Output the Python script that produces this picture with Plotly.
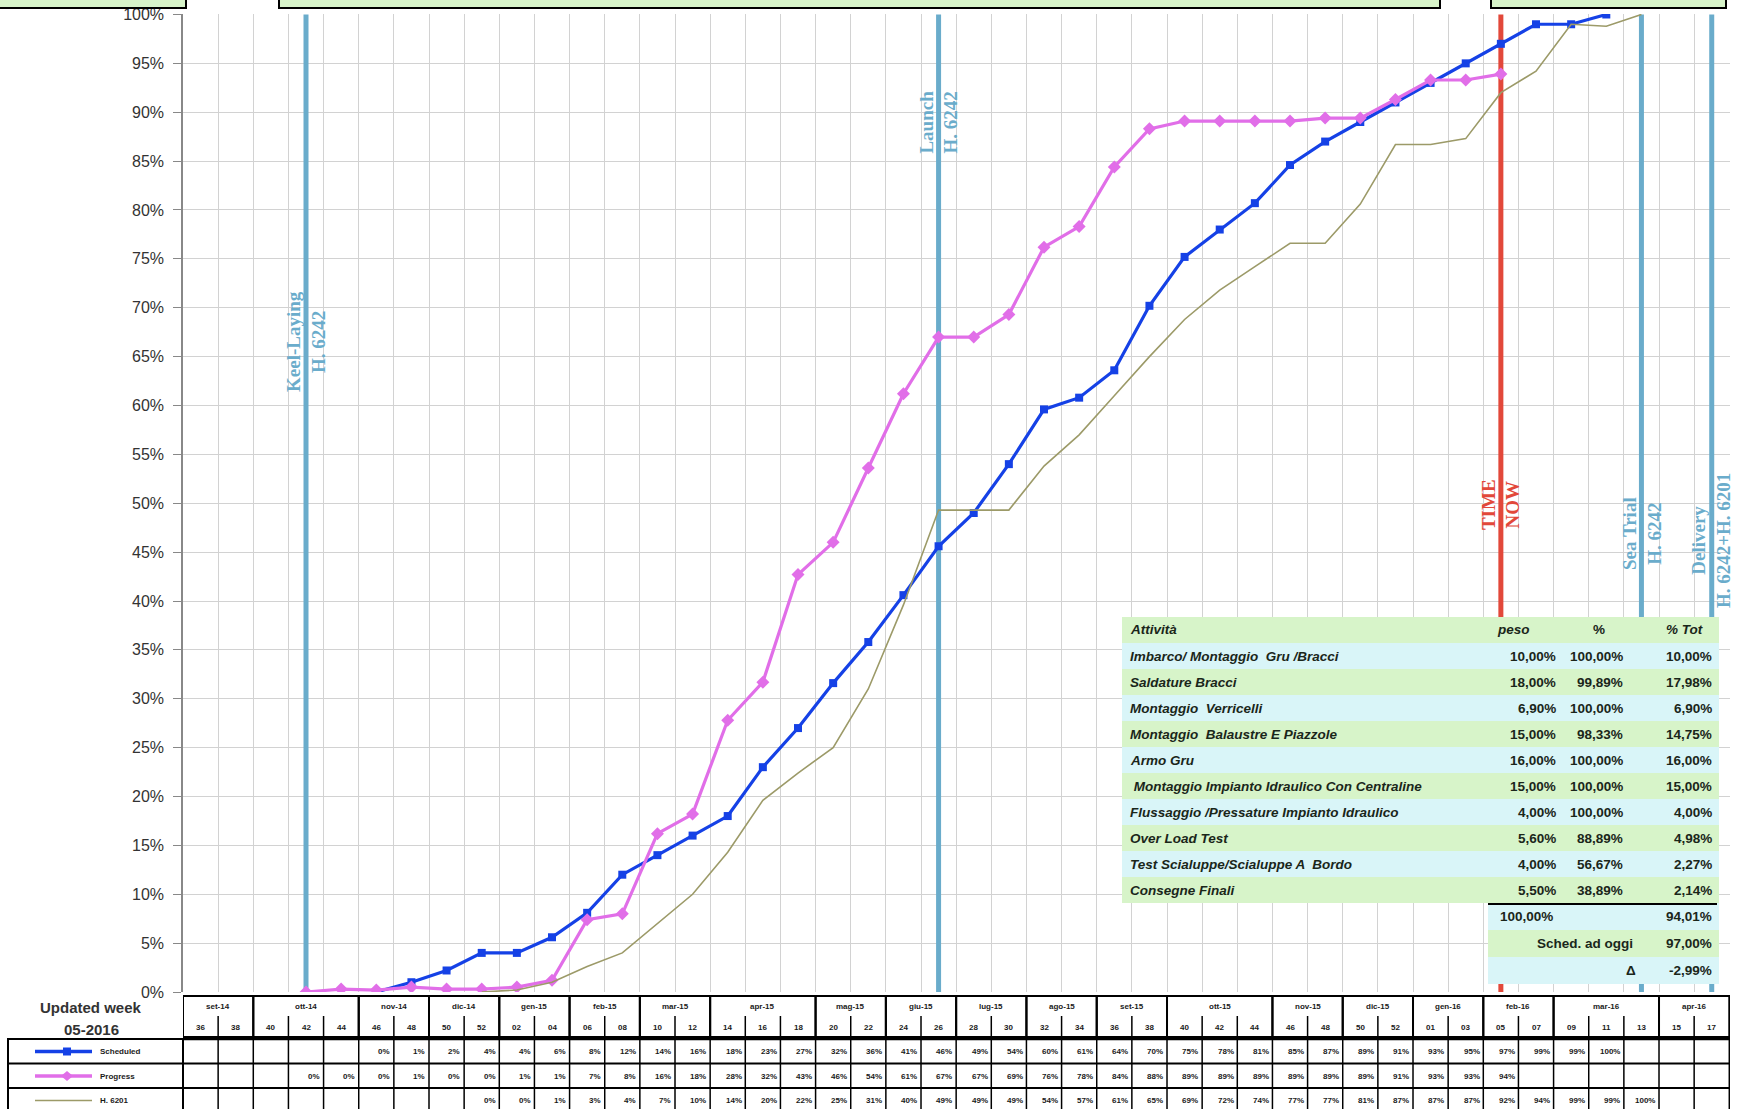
import plotly.graph_objects as go

W, H = 1737, 1109

# week columns of the S-curve (one point per column)
weeks = ["36", "38", "40", "42", "44", "46", "48", "50", "52",
         "02", "04", "06", "08", "10", "12", "14", "16", "18", "20", "22", "24", "26",
         "28", "30", "32", "34", "36", "38", "40", "42", "44", "46", "48", "50", "52",
         "01", "03", "05", "07", "09", "11", "13", "15", "17"]
month_labels = ["set-14", "ott-14", "nov-14", "dic-14", "gen-15", "feb-15", "mar-15",
                "apr-15", "mag-15", "giu-15", "lug-15", "ago-15", "set-15", "ott-15",
                "nov-15", "dic-15", "gen-16", "feb-16", "mar-16", "apr-16"]
month_spans = [2, 3, 2, 2, 2, 2, 2, 3, 2, 2, 2, 2, 2, 3, 2, 2, 2, 2, 3, 2]

# percentages (None = empty cell)
scheduled = [None] * 5 + [
    0.0, 1.0, 2.2, 4.0, 4.0, 5.6, 8.1, 12.0, 14.0, 16.0,
    18.0, 23.0, 27.0, 31.6, 35.8, 40.6, 45.6, 49.0, 54.0, 59.6,
    60.8, 63.6, 70.2, 75.2, 78.0, 80.7, 84.6, 87.0, 89.0, 91.0,
    93.0, 95.0, 97.0, 99.0, 99.0, 100.0] + [None] * 3
progress = [None] * 3 + [
    0.0, 0.3, 0.2, 0.5, 0.3, 0.3, 0.5, 1.2, 7.4, 8.0,
    16.2, 18.2, 27.8, 31.7, 42.7, 46.0, 53.6, 61.2, 67.0, 67.0,
    69.3, 76.2, 78.3, 84.4, 88.3, 89.1, 89.1, 89.1, 89.1, 89.4,
    89.4, 91.3, 93.3, 93.3, 93.9] + [None] * 6
h6201 = [None] * 8 + [
    0.0, 0.2, 1.0, 2.6, 4.0, 7.0, 10.0, 14.3, 19.6, 22.4,
    25.0, 31.0, 39.6, 49.3, 49.3, 49.3, 53.8, 57.0, 61.0, 65.0,
    68.8, 71.8, 74.2, 76.6, 76.6, 80.6, 86.7, 86.7, 87.3, 92.0,
    94.2, 99.0, 98.8, 100.0] + [None] * 2

# milestones (column index)
ms_pos = [3, 21, 37, 41, 43]
ms_text = ["Keel-Laying<br>H. 6242", "Launch<br>H. 6242", "TIME<br>NOW",
           "Sea Trial<br>H. 6242", "Delivery<br>H. 6242+H. 6201"]
ms_color = ["#6aaccb", "#6aaccb", "#e2483a", "#6aaccb", "#6aaccb"]
ms_label_y = [0.665, 0.89, 0.499, 0.469, 0.462]

# activity table
act_names = ["Imbarco/ Montaggio  Gru /Bracci", "Saldature Bracci", "Montaggio  Verricelli",
             "Montaggio  Balaustre E Piazzole", "Armo Gru",
             " Montaggio Impianto Idraulico Con Centraline",
             "Flussaggio /Pressature Impianto Idraulico", "Over Load Test",
             "Test Scialuppe/Scialuppe A  Bordo", "Consegne Finali"]
act_peso = [10.00, 18.00, 6.90, 15.00, 16.00, 15.00, 4.00, 5.60, 4.00, 5.50]
act_pct = [100.00, 99.89, 100.00, 98.33, 100.00, 100.00, 100.00, 88.89, 56.67, 38.89]
act_tot = [10.00, 17.98, 6.90, 14.75, 16.00, 15.00, 4.00, 4.98, 2.27, 2.14]
total_peso = 100.00
total_tot = 94.01
sched_today = 97.00
delta = -2.99

BLUE = "#1541e6"
MAGENTA = "#e16ee8"
OLIVE = "#9c9a68"
GREEN_BG = "#d7f4c9"
CYAN_BG = "#d9f5f8"
TXT = "#1a261a"


def fx(p):
    return p / W


def fy(p):
    return 1 - p / H


def pct(v):
    return f"{v:.2f}".replace(".", ",") + "%"


def cell(v):
    return f"{int(v + 0.5)}%"


idx = list(range(len(weeks)))


def frac(vals):
    return [None if v is None else v / 100 for v in vals]


fig = go.Figure()
fig.add_trace(go.Scatter(x=idx, y=frac(scheduled), mode="lines+markers", name="Scheduled",
                         line=dict(color=BLUE, width=3.2),
                         marker=dict(symbol="square", size=8, color=BLUE)))
fig.add_trace(go.Scatter(x=idx, y=frac(progress), mode="lines+markers", name="Progress",
                         line=dict(color=MAGENTA, width=3.2),
                         marker=dict(symbol="diamond", size=10, color=MAGENTA)))
fig.add_trace(go.Scatter(x=idx, y=frac(h6201), mode="lines", name="H. 6201",
                         line=dict(color=OLIVE, width=1.6)))

shapes = []
ann = []

# milestone lines and labels
for p, t, c, ly in zip(ms_pos, ms_text, ms_color, ms_label_y):
    shapes.append(dict(type="line", xref="x", yref="y", x0=p, x1=p, y0=0, y1=1,
                       line=dict(color=c, width=5), layer="between"))
    ann.append(dict(xref="x", yref="y", x=p, y=ly, text=f"<b>{t}</b>", textangle=-90,
                    showarrow=False, align="center", xanchor="center", yanchor="middle",
                    font=dict(family="Liberation Serif", size=19, color=c)))

# top title boxes (cut off by the page)
for a, b in [(-3, 186), (279, 1440), (1491, 1726)]:
    shapes.append(dict(type="rect", xref="paper", yref="paper", x0=fx(a), x1=fx(b),
                       y0=fy(8), y1=fy(-5), fillcolor=GREEN_BG,
                       line=dict(color="black", width=2), layer="above"))

# activity table
row_h = 26
top = 617
header = [("<b><i>Attività</i></b>", 1128, "left"), ("<b><i>peso</i></b>", 1513, "center"),
          ("<b>%</b>", 1599, "center"), ("<b><i>% Tot</i></b>", 1684, "center")]
for k in range(len(act_names) + 1):
    shapes.append(dict(type="rect", xref="paper", yref="paper", x0=fx(1122), x1=fx(1719),
                       y0=fy(top + row_h * (k + 1)), y1=fy(top + row_h * k),
                       fillcolor=GREEN_BG if k % 2 == 0 else CYAN_BG, line=dict(width=0),
                       layer="above"))
tf = dict(family="Liberation Sans", size=13.5, color=TXT)
for t, x, al in header:
    ann.append(dict(xref="paper", yref="paper", x=fx(x), y=fy(top + row_h / 2), text=t,
                    showarrow=False, xanchor=al, yanchor="middle", font=tf))
for k, (n, a, b, c) in enumerate(zip(act_names, act_peso, act_pct, act_tot)):
    yc = fy(top + row_h * (k + 1) + row_h / 2)
    ann.append(dict(xref="paper", yref="paper", x=fx(1128), y=yc, text=f"<b><i>{n}</i></b>",
                    showarrow=False, xanchor="left", yanchor="middle", font=tf))
    for v, xr in [(a, 1558), (b, 1625), (c, 1714)]:
        ann.append(dict(xref="paper", yref="paper", x=fx(xr), y=yc, text=f"<b>{pct(v)}</b>",
                        showarrow=False, xanchor="right", yanchor="middle", font=tf))
bt = top + row_h * (len(act_names) + 1)
for j, col in enumerate([CYAN_BG, GREEN_BG, CYAN_BG]):
    shapes.append(dict(type="rect", xref="paper", yref="paper", x0=fx(1488), x1=fx(1719),
                       y0=fy(bt + 27 * (j + 1)), y1=fy(bt + 27 * j), fillcolor=col,
                       line=dict(width=0), layer="above"))
shapes.append(dict(type="line", xref="paper", yref="paper", x0=fx(1488), x1=fx(1717),
                   y0=fy(bt + 1), y1=fy(bt + 1), line=dict(color="black", width=2),
                   layer="above"))
bottom_rows = [
    (pct(total_peso), 1498, "left", pct(total_tot)),
    ("Sched. ad oggi", 1635, "right", pct(sched_today)),
    ("Δ", 1638, "right", pct(delta)),
]
for j, (lt, lx, la, rv) in enumerate(bottom_rows):
    yc = fy(bt + 27 * j + 13.5)
    ann.append(dict(xref="paper", yref="paper", x=fx(lx), y=yc, text=f"<b>{lt}</b>",
                    showarrow=False, xanchor=la, yanchor="middle", font=tf))
    ann.append(dict(xref="paper", yref="paper", x=fx(1714), y=yc, text=f"<b>{rv}</b>",
                    showarrow=False, xanchor="right", yanchor="middle", font=tf))

# bottom week table
small = dict(family="Liberation Sans", size=8, color="#1a1a1a")
s = 0
for lab, n in zip(month_labels, month_spans):
    shapes.append(dict(type="rect", xref="x", yref="paper", x0=s - 0.5, x1=s + n - 0.5,
                       y0=fy(1037), y1=fy(996), line=dict(color="black", width=2)))
    for j in range(1, n):
        shapes.append(dict(type="line", xref="x", yref="paper", x0=s + j - 0.5,
                           x1=s + j - 0.5, y0=fy(1037), y1=fy(1016),
                           line=dict(color="black", width=1.5)))
    ann.append(dict(xref="x", yref="paper", x=s + (n - 1) / 2, y=fy(1006), text=f"<b>{lab}</b>",
                    showarrow=False, xanchor="center", yanchor="middle", font=small))
    s += n
for i, w in enumerate(weeks):
    ann.append(dict(xref="x", yref="paper", x=i, y=fy(1027), text=f"<b>{w}</b>",
                    showarrow=False, xanchor="center", yanchor="middle", font=small))

row_tops = [1039, 1063.5, 1088]
for i in range(len(weeks) + 1):
    shapes.append(dict(type="line", xref="x", yref="paper", x0=i - 0.5, x1=i - 0.5,
                       y0=fy(1112), y1=fy(1038), line=dict(color="black", width=1.5)))
shapes.append(dict(type="line", xref="x", yref="paper", x0=-0.5, x1=43.5, y0=fy(1038.5),
                   y1=fy(1038.5), line=dict(color="black", width=3.5)))
for yt in row_tops[1:]:
    shapes.append(dict(type="line", xref="x", yref="paper", x0=-0.5, x1=43.5, y0=fy(yt),
                       y1=fy(yt), line=dict(color="black", width=2)))
for r, series in enumerate([scheduled, progress, h6201]):
    yc = fy(row_tops[r] + 12.5)
    for i, v in enumerate(series):
        if v is None:
            continue
        ann.append(dict(xref="x", yref="paper", x=i + 0.45, y=yc, text=f"<b>{cell(v)}</b>",
                        showarrow=False, xanchor="right", yanchor="middle", font=small))

# left block: update week + legend
big = dict(family="Liberation Sans", size=15, color="#333")
ann.append(dict(xref="paper", yref="paper", x=fx(91), y=fy(1007), text="<b>Updated week</b>",
                showarrow=False, xanchor="center", yanchor="middle", font=big))
ann.append(dict(xref="paper", yref="paper", x=fx(91), y=fy(1029), text="<b>05-2016</b>",
                showarrow=False, xanchor="center", yanchor="middle", font=big))
shapes.append(dict(type="rect", xref="paper", yref="paper", x0=fx(8), x1=fx(183),
                   y0=fy(1112), y1=fy(1039), line=dict(color="black", width=2)))
for yt in row_tops[1:]:
    shapes.append(dict(type="line", xref="paper", yref="paper", x0=fx(8), x1=fx(183),
                       y0=fy(yt), y1=fy(yt), line=dict(color="black", width=2)))
leg = [(fig.data[0].name, BLUE, 3.5, "square"), (fig.data[1].name, MAGENTA, 3.5, "diamond"),
       (fig.data[2].name, OLIVE, 1.5, None)]
for r, (name, col, lw, sym) in enumerate(leg):
    yc = row_tops[r] + 12.5
    shapes.append(dict(type="line", xref="paper", yref="paper", x0=fx(35), x1=fx(92),
                       y0=fy(yc), y1=fy(yc), line=dict(color=col, width=lw)))
    if sym == "square":
        shapes.append(dict(type="rect", xref="paper", yref="paper", x0=fx(63), x1=fx(71),
                           y0=fy(yc + 4), y1=fy(yc - 4), fillcolor=col, line=dict(width=0)))
    elif sym == "diamond":
        path = (f"M {fx(61)},{fy(yc)} L {fx(67)},{fy(yc - 5)} L {fx(73)},{fy(yc)} "
                f"L {fx(67)},{fy(yc + 5)} Z")
        shapes.append(dict(type="path", xref="paper", yref="paper", path=path,
                           fillcolor=col, line=dict(width=0)))
    ann.append(dict(xref="paper", yref="paper", x=fx(98), y=fy(yc), text=f"<b>{name}</b>",
                    showarrow=False, xanchor="left", yanchor="middle", font=small))

fig.update_layout(
    width=W, height=H,
    margin=dict(l=0, r=0, t=0, b=0, pad=0, autoexpand=False),
    paper_bgcolor="white", plot_bgcolor="white",
    showlegend=False,
    shapes=shapes, annotations=ann,
    xaxis=dict(domain=[fx(183), fx(1730)], range=[-0.5, 43.52], automargin=False,
               tickvals=[i - 0.5 for i in range(len(weeks) + 1)], showticklabels=False,
               ticks="", showgrid=True, gridcolor="#d2d2d2", gridwidth=1, zeroline=False,
               showline=False),
    yaxis=dict(domain=[fy(992), fy(14)], range=[0, 1.0005], automargin=False,
               tickvals=[i / 20 for i in range(21)], ticklabeloverflow="allow",
               ticklabelstandoff=6,
               tickformat=".0%", ticks="outside", ticklen=8, tickcolor="#888",
               showline=True, linecolor="#888", linewidth=1.5, showgrid=True,
               gridcolor="#d2d2d2", gridwidth=1, zeroline=False,
               tickfont=dict(family="Liberation Sans", size=16, color="#333")),
)

# page margin off so the figure sits at the window's top-left corner
fig.write_html("out.html", config={"displayModeBar": False},
               post_script="document.body.style.margin='0';document.body.style.overflow='hidden';")
